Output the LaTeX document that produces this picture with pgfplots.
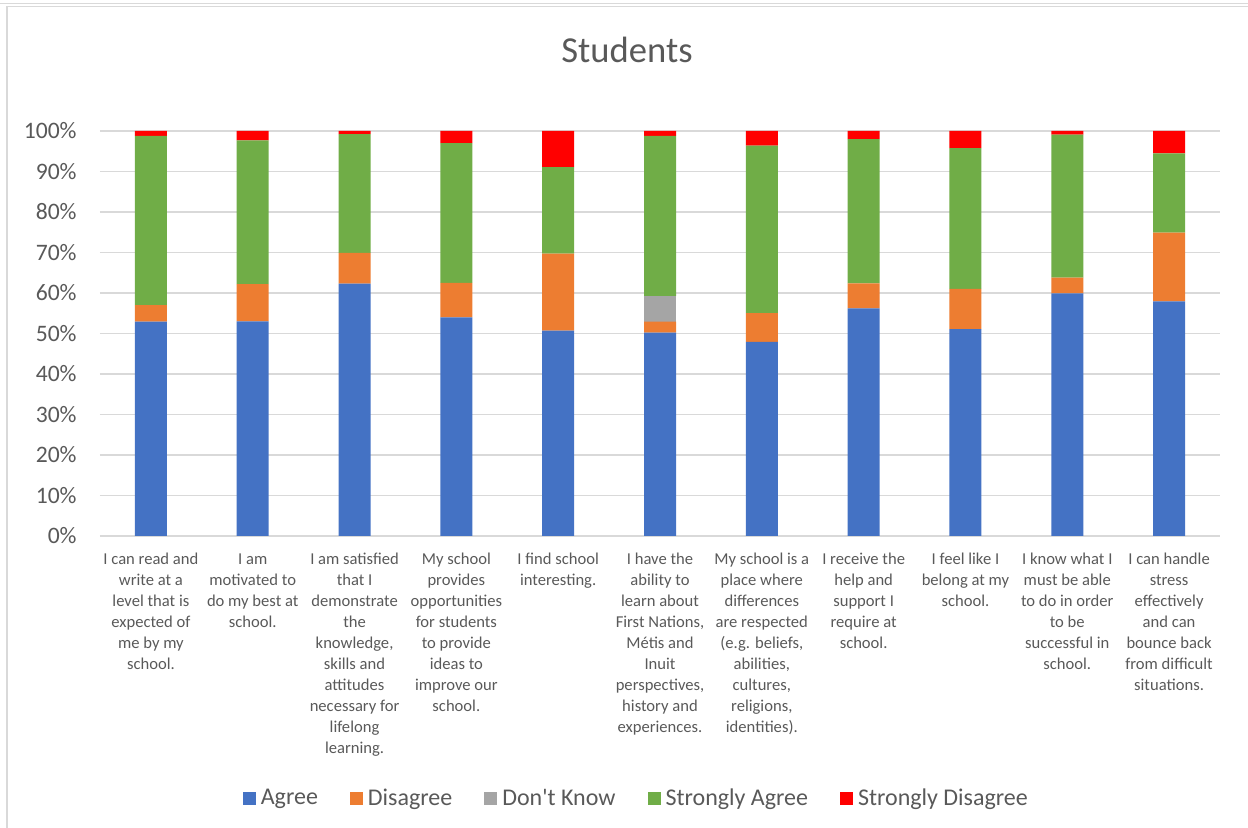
\documentclass[border=0pt]{standalone}
\usepackage{fontspec}
\setmainfont{Carlito}
\newfontfamily\plainfont{Carlito}
\usepackage{pgfplots}
\usepackage{pgfplotstable}
\pgfplotsset{compat=1.18}
\definecolor{cAgree}{HTML}{4472C4}
\definecolor{cDis}{HTML}{ED7D31}
\definecolor{cDK}{HTML}{A5A5A5}
\definecolor{cSA}{HTML}{70AD47}
\definecolor{cSD}{HTML}{FF0000}
\definecolor{txt}{HTML}{595959}
\definecolor{gridc}{HTML}{D9D9D9}

\pgfplotstableread{
x agree disagree dk sa sd
0 52.9 4.1 0 41.8 1.2
1 53.0 9.2 0 35.5 2.3
2 62.3 7.6 0 29.3 0.8
3 54.0 8.5 0 34.5 3.0
4 50.7 19.0 0 21.4 8.9
5 50.2 2.7 6.3 39.6 1.2
6 47.9 7.1 0 41.4 3.6
7 56.2 6.2 0 35.6 2.0
8 51.1 9.9 0 34.8 4.2
9 59.9 3.9 0 35.3 0.9
10 57.9 17.0 0 19.6 5.5
}\datatable

\begin{document}
\begin{tikzpicture}
\useasboundingbox (-50pt,-146pt) rectangle (574pt,268pt);
\draw[gridc, line width=0.75pt] (-50pt,266.25pt) -- (574pt,266.25pt);
\draw[gridc, line width=0.75pt] (-46.5pt,-160pt) -- (-46.5pt,264.75pt) -- (590pt,264.75pt);
\node[font=\fontsize{18.3}{22}\selectfont, text=txt] at (263.5pt,243pt) {Students};
\begin{axis}[
  at={(0pt,0pt)}, anchor=south west, scale only axis,
  width=560pt, height=202.5pt,
  ybar stacked, bar width=16pt,
  xmin=-0.5, xmax=10.5, ymin=0, ymax=100,
  xtick={0,...,10},
  xticklabels={
    {I can read and\\write at a\\level that is\\expected of\\me by my\\school.},
    {I am\\motivated to\\do my best at\\school.},
    {I am satisfied\\that I\\demonstrate\\the\\knowledge,\\skills and\\attitudes\\necessary for\\lifelong\\learning.},
    {My school\\provides\\opportunities\\for students\\to provide\\ideas to\\improve our\\school.},
    {I find school\\interesting.},
    {I have the\\ability to\\learn about\\First Nations,\\Métis and\\Inuit\\perspectives,\\history and\\experiences.},
    {My school is a\\place where\\differences\\are respected\\(e.g. beliefs,\\abilities,\\cultures,\\religions,\\identities).},
    {I receive the\\help and\\support I\\require at\\school.},
    {I feel like I\\belong at my\\school.},
    {I know what I\\must be able\\to do in order\\to be\\successful in\\school.},
    {I can handle\\stress\\effectively\\and can\\bounce back\\from difficult\\situations.}
  },
  ytick={0,10,...,100},
  yticklabel={\pgfmathprintnumber{\tick}\%},
  /pgf/number format/assume math mode=true,
  ymajorgrids, grid style={draw=gridc, line width=0.75pt},
  axis line style={draw=none},
  tick style={draw=none}, major tick style={draw=none},
  yticklabel style={font=\fontsize{11.8}{14}\selectfont, text=txt, anchor=east, inner sep=0pt, xshift=-11.5pt},
  xticklabel style={font=\fontsize{8.3}{10.5}\selectfont, text=txt, align=center, anchor=north, inner sep=0pt, yshift=-8.5pt},
  legend style={at={(0.478,-0.648)}, anchor=center, draw=none, fill=none,
    font=\fontsize{12}{14}\selectfont, text=txt, legend columns=5,
    /tikz/every odd column/.append style={column sep=2.5pt},
    /tikz/every even column/.append style={column sep=16pt},
    nodes={inner sep=0pt}},
  legend image code/.code={\fill[#1,draw=none] (0pt,-3.25pt) rectangle (6.5pt,3.25pt);},
]
\addplot[fill=cAgree, draw=none] table[x=x, y=agree] {\datatable};
\addplot[fill=cDis, draw=none] table[x=x, y=disagree] {\datatable};
\addplot[fill=cDK, draw=none] table[x=x, y=dk] {\datatable};
\addplot[fill=cSA, draw=none] table[x=x, y=sa] {\datatable};
\addplot[fill=cSD, draw=none] table[x=x, y=sd] {\datatable};
\legend{Agree, Disagree, Don{\plainfont '}t Know, Strongly Agree, Strongly Disagree}
\end{axis}
\end{tikzpicture}
\end{document}
